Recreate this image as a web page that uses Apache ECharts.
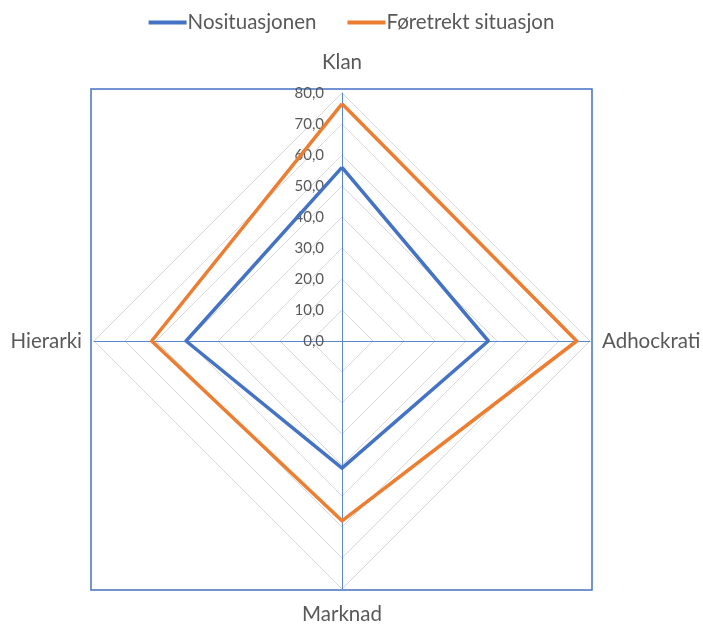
<!DOCTYPE html>
<html>
<head>
<meta charset="utf-8">
<script src="https://cdn.jsdelivr.net/npm/echarts@6/dist/echarts.min.js"></script>
<style>
  html, body { margin: 0; padding: 0; background: #fff; }
  #chart { width: 703px; height: 625px; }
</style>
</head>
<body>
<div id="chart"></div>
<script>
// Culture profile: current vs. preferred situation (radar, 0–80)
const categories = ['Klan', 'Hierarki', 'Marknad', 'Adhockrati'];
const seriesNames = ['Nosituasjonen', 'Føretrekt situasjon'];
const nositasjonen = [56.0, 50.3, 41.0, 47.2];
const foretrekt = [76.5, 61.4, 58.0, 75.7];
const axisMax = 80;
const axisSplits = 8;

const FONT = 'Lato, "Open Sans", sans-serif';
const TEXT = '#595959';
const BLUE = '#4472C4';
const ORANGE = '#ED7D31';

// per-axis distance of the category name from the outer ring
const nameGaps = { Klan: 20, Hierarki: 12, Marknad: 15, Adhockrati: 12 };

const chart = echarts.init(document.getElementById('chart'), null, { renderer: 'canvas' });

const indicators = categories.map((name, i) => {
  const ind = { name: name, min: 0, max: axisMax, nameGap: nameGaps[name] };
  if (i === 0) {
    ind.axisLabel = {
      show: true,
      color: TEXT,
      fontFamily: FONT,
      fontSize: 15,
      margin: 18,
      formatter: v => v.toFixed(1).replace('.', ',')
    };
  }
  return ind;
});

chart.setOption({
  animation: false,
  backgroundColor: '#ffffff',
  color: [BLUE, ORANGE],
  legend: {
    top: 7,
    left: 'center',
    itemWidth: 38,
    itemHeight: 4,
    itemGap: 31,
    icon: 'rect',
    textStyle: { color: TEXT, fontFamily: FONT, fontSize: 20.5, padding: [0, 0, 0, -4] },
    data: seriesNames
  },
  graphic: [{
    type: 'rect',
    shape: { x: 91, y: 89, width: 501, height: 501 },
    style: { fill: 'none', stroke: BLUE, lineWidth: 1.5 },
    z: 0
  }],
  radar: {
    center: [342, 341],
    radius: 248,
    startAngle: 90,
    shape: 'polygon',
    splitNumber: axisSplits,
    indicator: indicators,
    axisName: { color: TEXT, fontFamily: FONT, fontSize: 20.5 },
    nameGap: 12,
    splitLine: { lineStyle: { color: '#D9D9D9', width: 1 } },
    splitArea: { show: false },
    axisLine: { lineStyle: { color: '#5B87CF', width: 1 } },
    axisTick: { show: false },
    axisLabel: { show: false }
  },
  series: [{
    type: 'radar',
    symbol: 'none',
    data: [
      { name: seriesNames[0], value: nositasjonen, lineStyle: { color: BLUE, width: 3.5 }, itemStyle: { color: BLUE } },
      { name: seriesNames[1], value: foretrekt, lineStyle: { color: ORANGE, width: 3.5 }, itemStyle: { color: ORANGE } }
    ]
  }]
});
</script>
</body>
</html>
